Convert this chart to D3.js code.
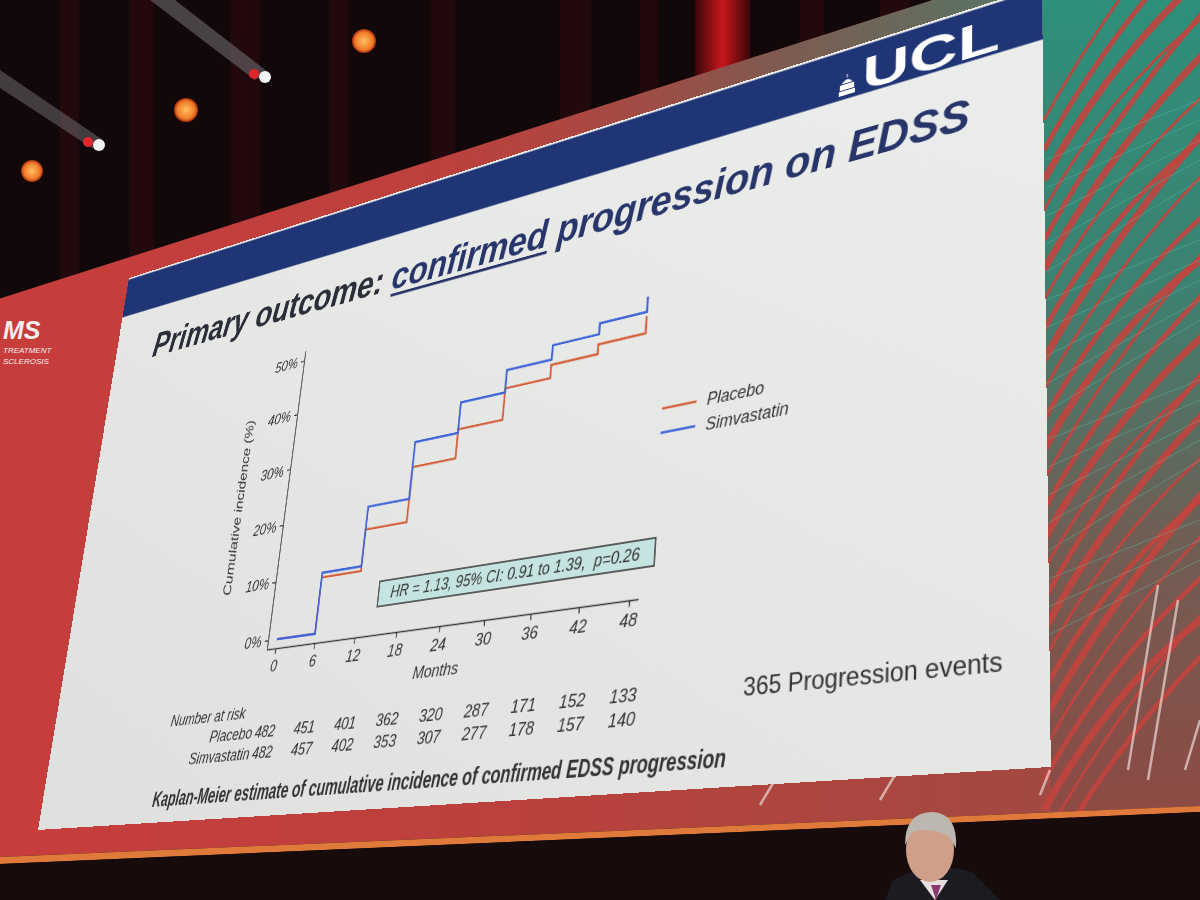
<!DOCTYPE html>
<html><head><meta charset="utf-8">
<script src="https://cdn.jsdelivr.net/npm/d3@7"></script>
<style>
html,body{margin:0;padding:0;width:1200px;height:900px;overflow:hidden;background:#120809;}
#bg{position:absolute;left:0;top:0;}
#slide{position:absolute;left:0;top:0;width:1280px;height:720px;transform-origin:0 0;}
</style></head><body>
<svg id="bg" width="1200" height="900"></svg>
<div id="slide"><svg id="chart" width="1280" height="720"></svg></div>
<script>
// ---------- data ----------
const monthTicks = [0, 6, 12, 18, 24, 30, 36, 42, 48];
const pctTicks = [0, 10, 20, 30, 40, 50];
const stepMonths = [0, 5.9, 11.8, 17.8, 23.9, 30.0, 36.0, 42.0, 47.9];
const placeboPct = [0, 9.5, 16.5, 25.8, 30.7, 36.0, 38.2, 39.8, 42.6];
const simvaPct   = [0, 10.3, 20.4, 30.1, 35.3, 39.1, 41.5, 43.3, 45.8];
const riskMonths = [0, 6, 12, 18, 24, 30, 36, 42, 48];
const placeboRisk = [482, 451, 401, 362, 320, 287, 171, 152, 133];
const simvaRisk   = [482, 457, 402, 353, 307, 277, 178, 157, 140];
const seriesNames = ["Placebo", "Simvastatin"];
const seriesColors = ["#d4603c", "#3f63d8"];
const hrText = "HR = 1.13, 95% CI: 0.91 to 1.39,  p=0.26";
const eventsText = "365 Progression events";
const captionText = "Kaplan-Meier estimate of cumulative incidence of confirmed EDSS progression";

// ---------- background (room) ----------
const bg = d3.select('#bg');
const bdefs = bg.append('defs');
const fg1 = bdefs.append('linearGradient').attr('id','frameGrad').attr('x1',0).attr('x2',1).attr('y1',0).attr('y2',0);
fg1.append('stop').attr('offset',0).attr('stop-color','#c73d3c');
fg1.append('stop').attr('offset',0.5).attr('stop-color','#b8423d');
fg1.append('stop').attr('offset',1).attr('stop-color','#9a4b44');
const fg2 = bdefs.append('linearGradient').attr('id','bandGrad').attr('x1',0).attr('x2',1).attr('y1',0).attr('y2',0);
fg2.append('stop').attr('offset',0.3).attr('stop-color','#b8423d').attr('stop-opacity',0);
fg2.append('stop').attr('offset',0.7).attr('stop-color','#7a5c52').attr('stop-opacity',0.9);
fg2.append('stop').attr('offset',1).attr('stop-color','#4f7a68').attr('stop-opacity',1);
const fg3 = bdefs.append('linearGradient').attr('id','panelGrad').attr('x1',0).attr('x2',0).attr('y1',0).attr('y2',1);
fg3.append('stop').attr('offset',0).attr('stop-color','#2e8f7b');
fg3.append('stop').attr('offset',0.35).attr('stop-color','#3c8272');
fg3.append('stop').attr('offset',0.65).attr('stop-color','#6e5f55');
fg3.append('stop').attr('offset',1).attr('stop-color','#8d4a44');
const fg4 = bdefs.append('radialGradient').attr('id','lamp');
fg4.append('stop').attr('offset',0).attr('stop-color','#ffc060');
fg4.append('stop').attr('offset',0.75).attr('stop-color','#ef7a26');
fg4.append('stop').attr('offset',1).attr('stop-color','#a02a10');
const fg5 = bdefs.append('linearGradient').attr('id','redStrip').attr('x1',0).attr('x2',1);
fg5.append('stop').attr('offset',0).attr('stop-color','#3a0608');
fg5.append('stop').attr('offset',0.5).attr('stop-color','#c8161c');
fg5.append('stop').attr('offset',1).attr('stop-color','#3a0608');

bg.append('rect').attr('width',1200).attr('height',900).attr('fill','#130809');
// curtain folds
[60,130,230,330,430,560,640,800,880].forEach((cx,i)=>{
  bg.append('rect').attr('x',cx).attr('y',0).attr('width',18+ (i%3)*6).attr('height',320)
    .attr('fill','#2a0c0e').attr('opacity',0.7);
});
bg.append('rect').attr('x',695).attr('y',0).attr('width',55).attr('height',75).attr('fill','url(#redStrip)');
// light beams
bg.append('path').attr('d','M150,0 L175,0 L268,72 L255,80 Z').attr('fill','#8a8a90').attr('opacity',0.45);
bg.append('path').attr('d','M0,70 L0,88 L95,150 L103,140 Z').attr('fill','#8a8a90').attr('opacity',0.4);
// lamps
[[364,41,12],[186,110,12],[32,171,11]].forEach(d=>{
  bg.append('circle').attr('cx',d[0]).attr('cy',d[1]).attr('r',d[2]).attr('fill','url(#lamp)');
});
[[265,77],[99,145]].forEach(d=>{
  bg.append('circle').attr('cx',d[0]-11).attr('cy',d[1]-3).attr('r',5).attr('fill','#e0262a');
  bg.append('circle').attr('cx',d[0]).attr('cy',d[1]).attr('r',6).attr('fill','#f2f2f2');
});
// stage frame
bg.append('path').attr('d','M0,298.6 L933,0 L1200,0 L1200,806 L0,857 Z').attr('fill','url(#frameGrad)');
bg.append('path').attr('d','M300,202.6 L933,0 L1045,0 L1042,-14 L129,278 Z').attr('fill','url(#bandGrad)');
// right patterned panel
bg.append('path').attr('d','M1042,0 L1200,0 L1200,806 L1051,812 Z').attr('fill','url(#panelGrad)');
const streaks = bg.append('g').attr('fill','none');
for (let i = 0; i < 26; i++) {
  const y0 = 120 + i * 30;
  streaks.append('path')
    .attr('d', `M1044,${y0} Q1110,${y0 - 120} 1205,${y0 - 230 + (i % 4) * 12}`)
    .attr('stroke', '#c2443e').attr('stroke-width', 3 + (i % 3) * 2).attr('opacity', 0.9);
}
for (let i = 0; i < 18; i++) {
  const y0 = 160 + i * 28;
  streaks.append('path')
    .attr('d', `M1046,${y0} L1200,${y0 - 60 - (i % 5) * 8}`)
    .attr('stroke', '#5fc2aa').attr('stroke-width', 0.8).attr('opacity', 0.5);
}
// light diagonal stripes below the slide
[[1128,770,1158,585],[1148,780,1178,600],[1185,770,1200,720],[1040,795,1050,770],[880,800,895,775],[760,805,775,780]].forEach(d=>{
  bg.append('line').attr('x1',d[0]).attr('y1',d[1]).attr('x2',d[2]).attr('y2',d[3]).attr('stroke','#e8d0cc').attr('stroke-width',2.5).attr('opacity',0.75);
});
// stage lip
bg.append('path').attr('d','M0,857 L1200,806 L1200,812 L0,864 Z').attr('fill','#e07a3a');
bg.append('path').attr('d','M0,864 L1200,812 L1200,900 L0,900 Z').attr('fill','#170b0b');
// left logo (kept inside the picture)
const lg = bg.append('g').attr('fill','#f4eeee').attr('font-family','Liberation Sans, Arial, sans-serif').attr('font-style','italic');
lg.append('text').attr('x',3).attr('y',339).attr('font-weight','bold').attr('font-size',25).text('MS');
lg.append('text').attr('x',3).attr('y',353).attr('font-size',8).text('TREATMENT');
lg.append('text').attr('x',3).attr('y',364).attr('font-size',8).text('SCLEROSIS');
// speaker
const sp = bg.append('g');
sp.append('path').attr('d','M885,900 L893,880 Q930,860 972,872 L1000,900 Z').attr('fill','#1d1b22');
sp.append('path').attr('d','M920,880 L935,900 L948,880 Z').attr('fill','#e8e0e0');
sp.append('path').attr('d','M931,885 L936,900 L941,885 Z').attr('fill','#8a3a72');
sp.append('ellipse').attr('cx',930).attr('cy',850).attr('rx',24).attr('ry',32).attr('fill','#cf9f8a');
sp.append('path').attr('d','M905,845 Q905,812 933,812 Q958,814 956,848 L950,838 Q935,826 912,832 Z').attr('fill','#bdb7b1');

// ---------- slide (drawn flat, then mapped in perspective) ----------
const W = 1280, H = 720;
const svg = d3.select('#chart');
const defs = svg.append('defs');
const sg = defs.append('linearGradient').attr('id','slideBg').attr('x1',1).attr('y1',0).attr('x2',0).attr('y2',1);
sg.append('stop').attr('offset',0).attr('stop-color','#eceeec');
sg.append('stop').attr('offset',1).attr('stop-color','#dfe0de');
svg.append('rect').attr('width',W).attr('height',H).attr('fill','url(#slideBg)');
svg.append('rect').attr('x',0).attr('y',2.5).attr('width',W).attr('height',54).attr('fill','#1f3576');

// UCL logo
const logo = svg.append('g').attr('fill','#ffffff');
logo.append('text').attr('x',1094).attr('y',53).attr('font-family','Liberation Sans, Arial, sans-serif')
  .attr('font-weight','bold').attr('font-size',50).attr('textLength',144).attr('lengthAdjust','spacingAndGlyphs').text('UCL');
logo.append('path').attr('d','M1068,52 L1068,47 L1086,47 L1086,52 Z M1069,46 L1069,40 L1085,40 L1085,46 Z M1071,39 Q1077,31 1083,39 Z M1076.5,33 L1077.5,33 L1077.5,29 L1076.5,29 Z');

const FF = 'Liberation Sans, Arial, sans-serif';
// title
const title = svg.append('text').attr('x',73).attr('y',127).attr('font-family',FF)
  .attr('font-weight','bold').attr('font-style','italic').attr('font-size',47);
title.append('tspan').attr('fill','#2b2d38').text('Primary outcome:');
title.append('tspan').attr('fill','#27356a').text(' confirmed');
title.append('tspan').attr('fill','#27356a').text(' progression on EDSS');
const tn = title.node();
const s0 = tn.getSubStringLength(0, 17), s1 = tn.getSubStringLength(17, 9);
svg.append('rect').attr('x',73 + s0).attr('y',132).attr('width',s1).attr('height',3.5).attr('fill','#27356a');

// scales
const x = d3.scaleLinear().domain([0, 48]).range([370, 853]);
const y = d3.scaleLinear().domain([0, 50]).range([524.6, 188.6]);
const axisX0 = 357, axisY0 = 535.5;
const ink = '#333';

function styleAxis(g) {
  g.select('.domain').remove();
  g.selectAll('line').attr('stroke', ink).attr('stroke-width', 1.4);
  g.selectAll('text').attr('font-size', 19).attr('font-family', FF).attr('font-style','italic').attr('fill', ink);
}
const gx = svg.append('g').attr('transform', `translate(0,${axisY0})`)
  .call(d3.axisBottom(x).tickValues(monthTicks).tickSize(6).tickPadding(6).tickFormat(d3.format('d')));
styleAxis(gx);
const gy = svg.append('g').attr('transform', `translate(${axisX0},0)`)
  .call(d3.axisLeft(y).tickValues(pctTicks).tickSize(6).tickPadding(5).tickFormat(d => d + '%'));
styleAxis(gy);
svg.append('line').attr('x1',axisX0).attr('y1',axisY0).attr('x2',x(49.1)).attr('y2',axisY0).attr('stroke',ink).attr('stroke-width',1.4);
svg.append('line').attr('x1',axisX0).attr('y1',axisY0).attr('x2',axisX0).attr('y2',y(51.8)).attr('stroke',ink).attr('stroke-width',1.4);

svg.append('text').attr('transform', `translate(283.6,${(y(0)+y(50))/2}) rotate(-90)`).attr('text-anchor','middle')
  .attr('font-family',FF).attr('font-style','italic').attr('font-size',19).attr('fill',ink).text('Cumulative incidence (%)');
svg.append('text').attr('x', x(24)).attr('y', 588).attr('text-anchor','middle')
  .attr('font-family',FF).attr('font-style','italic').attr('font-size',19).attr('fill',ink).text('Months');

// HR box
svg.append('rect').attr('x',519).attr('y',476).attr('width',361).attr('height',28)
  .attr('fill','#c5e3e0').attr('stroke','#3a3a3a').attr('stroke-width',1.6);
svg.append('text').attr('x',699.5).attr('y',496.5).attr('text-anchor','middle').attr('xml:space','preserve')
  .style('white-space','pre')
  .attr('font-family',FF).attr('font-style','italic').attr('font-size',18).attr('fill','#333').text(hrText);

// curves
const line = d3.line().x(d => x(d[0])).y(d => y(d[1])).curve(d3.curveStepAfter);
const seriesData = [placeboPct, simvaPct].map(arr => stepMonths.map((m, i) => [m, arr[i]]));
seriesData.forEach((pts, i) => {
  svg.append('path').datum(pts).attr('d', line).attr('fill','none')
    .attr('stroke', seriesColors[i]).attr('stroke-width', 2.6).attr('stroke-linejoin','miter');
});

// legend
const leg = svg.append('g').attr('transform','translate(878,343)');
seriesNames.forEach((n, i) => {
  const r = leg.append('g').attr('transform', `translate(0,${i * 25.5})`);
  r.append('line').attr('x1',0).attr('x2',41).attr('y1',0).attr('y2',0).attr('stroke',seriesColors[i]).attr('stroke-width',2.6);
  r.append('text').attr('x',53).attr('y',6).attr('font-family',FF).attr('font-style','italic').attr('font-size',18).attr('fill',ink).text(n);
});

// number at risk
const risk = svg.append('g').attr('font-family',FF).attr('font-style','italic').attr('font-size',19).attr('fill',ink);
risk.append('text').attr('x',212).attr('y',611.5).text('Number at risk');
[placeboRisk, simvaRisk].forEach((arr, i) => {
  const yy = 634 + i * 23;
  risk.append('text').attr('x', x(0) - 20).attr('y', yy).attr('text-anchor','end').text(seriesNames[i]);
  arr.forEach((v, j) => {
    risk.append('text').attr('x', x(riskMonths[j])).attr('y', yy).attr('text-anchor','middle').text(v);
  });
});

// events note
svg.append('text').attr('x',1239).attr('y',639).attr('text-anchor','end').attr('font-family',FF)
  .attr('font-size',24).attr('fill','#333').text(eventsText);
// caption
svg.append('text').attr('x',200).attr('y',702).attr('font-family',FF).attr('font-weight','bold').attr('font-style','italic')
  .attr('font-size',23).attr('textLength',772).attr('lengthAdjust','spacingAndGlyphs').attr('fill','#333').text(captionText);

// ---------- perspective mapping of the slide onto the screen quad ----------
const quad = [[129, 278], [1042, -14], [1051, 767], [38, 830]];
function squareToQuad(p) {
  const [x0, y0] = p[0], [x1, y1] = p[1], [x2, y2] = p[2], [x3, y3] = p[3];
  const dx1 = x1 - x2, dx2 = x3 - x2, dx3 = x0 - x1 + x2 - x3;
  const dy1 = y1 - y2, dy2 = y3 - y2, dy3 = y0 - y1 + y2 - y3;
  const det = dx1 * dy2 - dx2 * dy1;
  const g = (dx3 * dy2 - dx2 * dy3) / det, h = (dx1 * dy3 - dx3 * dy1) / det;
  return { a: x1 - x0 + g * x1, b: x3 - x0 + h * x3, c: x0, d: y1 - y0 + g * y1, e: y3 - y0 + h * y3, f: y0, g, h };
}
const m = squareToQuad(quad);
const mat = [m.a / W, m.d / W, 0, m.g / W, m.b / H, m.e / H, 0, m.h / H, 0, 0, 1, 0, m.c, m.f, 0, 1];
document.getElementById('slide').style.transform = `matrix3d(${mat.join(',')})`;
</script>
</body></html>
